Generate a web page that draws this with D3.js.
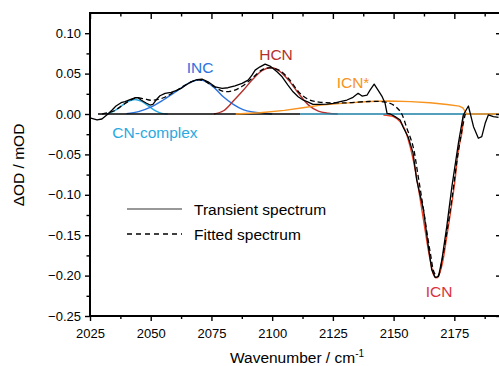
<!DOCTYPE html>
<html>
<head>
<meta charset="utf-8">
<script src="https://cdn.jsdelivr.net/npm/d3@7"></script>
<style>
  body { margin: 0; background: #fff; }
  text { font-family: "Liberation Sans", Arial, sans-serif; }
</style>
</head>
<body>
<div id="chart"></div>
<script>
// transient spectrum (black solid) [wavenumber, dOD]
const transientWn = [2025, 2027.9, 2029.9, 2032.4, 2034.1, 2035.7, 2037.8, 2039.4, 2041.5, 2043.5, 2044.8, 2046, 2048.1, 2049.7, 2050.9, 2052.2, 2053.8, 2055.9, 2058.4, 2060.4, 2062.5, 2064.5, 2066.6, 2069.1, 2071.1, 2073.6, 2076.5, 2079.4, 2081.8, 2084.7, 2087.6, 2090.1, 2091.7, 2093, 2095, 2097.1, 2099.1, 2102, 2104.1, 2106.5, 2108.6, 2110.7, 2112.7, 2114.4, 2116.8, 2119.7, 2122.6, 2125.1, 2128, 2130.8, 2133.3, 2135.4, 2137, 2139.1, 2140.3, 2142, 2143.6, 2145.3, 2146.5, 2147.3, 2148.6, 2150.6, 2152.7, 2153.9, 2156, 2158, 2159.5, 2162.3, 2164.3, 2165.7, 2167.1, 2168.5, 2169.9, 2171.9, 2174, 2176.7, 2178.7, 2180.8, 2182.9, 2184.9, 2186.3, 2187.7, 2189, 2191.1, 2193.2];
const transientOD = [-0.0049, -0.0074, -0.0062, 0, 0.0049, 0.0099, 0.014, 0.0152, 0.0177, 0.0201, 0.0201, 0.0173, 0.0136, 0.0111, 0.012, 0.0173, 0.0226, 0.0256, 0.0268, 0.0288, 0.0317, 0.0358, 0.0399, 0.0426, 0.0432, 0.0399, 0.0337, 0.0317, 0.0325, 0.0349, 0.0379, 0.042, 0.0481, 0.0543, 0.0584, 0.0617, 0.0593, 0.0522, 0.046, 0.0358, 0.0275, 0.0214, 0.0173, 0.0152, 0.012, 0.012, 0.0123, 0.0132, 0.0152, 0.0173, 0.0206, 0.0256, 0.0222, 0.0235, 0.0296, 0.037, 0.0296, 0.0214, 0.0132, 0.0009, 0, -0.0033, -0.0074, -0.016, -0.0284, -0.0481, -0.0815, -0.1185, -0.1638, -0.1926, -0.2025, -0.2009, -0.1802, -0.1391, -0.0898, -0.0358, -0.0012, 0.0099, -0.0157, -0.03, -0.028, -0.0115, -0.0012, -0.0033, -0.0041];

// fitted spectrum (black dashed)
const fittedWn = [2030, 2035, 2038, 2041, 2044, 2047, 2050, 2053, 2056, 2060, 2065, 2069, 2072, 2076, 2080, 2084, 2088, 2092, 2096, 2099, 2103, 2107, 2111, 2115, 2120, 2130, 2140, 2146, 2150, 2153, 2155.5, 2158, 2160, 2162.3, 2165, 2167, 2168.3, 2170, 2172, 2174, 2176, 2178, 2179.5];
const fittedOD = [0, 0.004, 0.01, 0.016, 0.02, 0.019, 0.017, 0.018, 0.021, 0.028, 0.037, 0.042, 0.041, 0.034, 0.028, 0.029, 0.035, 0.045, 0.055, 0.057, 0.054, 0.043, 0.027, 0.018, 0.0145, 0.0138, 0.0155, 0.015, 0.011, 0.002, -0.018, -0.04, -0.075, -0.118, -0.17, -0.198, -0.2, -0.18, -0.145, -0.105, -0.06, -0.022, 0];

// fitted components
const cnWn = [2032, 2035, 2038, 2041, 2043.5, 2046, 2049, 2052, 2055, 2057];
const cnOD = [0, 0.004, 0.01, 0.016, 0.018, 0.016, 0.01, 0.004, 0.0005, 0];
const incWn = [2040, 2045, 2050, 2055, 2060, 2065, 2069, 2072, 2076, 2080, 2084, 2088, 2092, 2096, 2100];
const incOD = [0.0005, 0.003, 0.0085, 0.017, 0.027, 0.037, 0.042, 0.041, 0.033, 0.021, 0.012, 0.0055, 0.0025, 0.001, 0];
const hcnWn = [2076, 2080, 2084, 2088, 2092, 2096, 2099.5, 2103, 2107, 2111, 2115, 2119, 2123, 2127];
const hcnOD = [0, 0.004, 0.016, 0.029, 0.043, 0.054, 0.0575, 0.053, 0.041, 0.025, 0.011, 0.0035, 0.001, 0];
const icnStarWn = [2085, 2095, 2105, 2112, 2120, 2130, 2140, 2148, 2157, 2165, 2172, 2177, 2178.5, 2179.5, 2180, 2195];
const icnStarOD = [0, 0.0015, 0.0045, 0.0075, 0.011, 0.0135, 0.0155, 0.016, 0.0153, 0.014, 0.0118, 0.0098, 0.0075, 0.003, 0, 0];
const icnWn = [2145.8, 2149.9, 2152.7, 2154.7, 2156.8, 2158.9, 2162.3, 2165, 2166.8, 2168, 2169.8, 2171.9, 2174, 2175.3, 2176.7, 2178.1, 2179, 2180];
const icnOD = [-0.0012, -0.0033, -0.0095, -0.0198, -0.0404, -0.0691, -0.1309, -0.18, -0.2009, -0.2025, -0.1885, -0.1515, -0.1102, -0.0815, -0.044, -0.0238, -0.0012, 0];

const xTicks = [2025, 2050, 2075, 2100, 2125, 2150, 2175];
const yTicks = [-0.25, -0.2, -0.15, -0.1, -0.05, 0, 0.05, 0.1];

const width = 499, height = 366;
const svg = d3.select("#chart").append("svg").attr("width", width).attr("height", height);

const x = d3.scaleLinear().domain([2025, 2193.6]).range([90, 499.5]);
const y = d3.scaleLinear().domain([-0.25, 0.125]).range([316, 13]);

const zip = (a, b) => a.map((v, i) => [v, b[i]]);
const smooth = d3.line().x(d => x(d[0])).y(d => y(d[1])).curve(d3.curveCatmullRom.alpha(0.5));
const straight = d3.line().x(d => x(d[0])).y(d => y(d[1]));

// components
const comps = [
  [cnWn, cnOD, "#29a9e0"],
  [incWn, incOD, "#2b73de"],
  [hcnWn, hcnOD, "#b5312d"],
  [icnWn, icnOD, "#ee4022"]
];
comps.forEach(c => {
  svg.append("path").attr("d", smooth(zip(c[0], c[1]))).attr("fill", "none")
    .attr("stroke", c[2]).attr("stroke-width", 1.4);
});

// zero lines
svg.append("path").attr("d", straight([[2028.3, 0], [2111.5, 0]]))
  .attr("stroke", "#000").attr("stroke-width", 1.4);
svg.append("path").attr("d", straight([[2111.5, 0], [2195, 0]]))
  .attr("stroke", "#1b7fa6").attr("stroke-width", 1.6);

svg.append("path").attr("d", straight(zip(icnStarWn, icnStarOD))).attr("fill", "none")
  .attr("stroke", "#f7931e").attr("stroke-width", 1.4).attr("stroke-linejoin", "round");

// fitted + transient
svg.append("path").attr("d", smooth(zip(fittedWn, fittedOD))).attr("fill", "none")
  .attr("stroke", "#000").attr("stroke-width", 1.3).attr("stroke-dasharray", "5,3");
svg.append("path").attr("d", straight(zip(transientWn, transientOD))).attr("fill", "none")
  .attr("stroke", "#000").attr("stroke-width", 1.3).attr("stroke-linejoin", "round");

// axes
const xMinor = d3.range(2037.5, 2193, 25);
const yMinor = d3.range(-0.225, 0.125, 0.05);
const gBottom = svg.append("g").attr("transform", "translate(0,316)");
gBottom.call(d3.axisBottom(x).tickValues(xTicks).tickSize(5).tickFormat(d3.format("d")));
gBottom.append("g").call(d3.axisBottom(x).tickValues(xMinor).tickSize(3).tickFormat(""));
const gTop = svg.append("g").attr("transform", "translate(0,13)");
gTop.call(d3.axisBottom(x).tickValues(xTicks).tickSize(6).tickFormat(""));
gTop.append("g").call(d3.axisBottom(x).tickValues(xMinor).tickSize(3.5).tickFormat(""));
const gLeft = svg.append("g").attr("transform", "translate(90,0)");
gLeft.call(d3.axisLeft(y).tickValues(yTicks).tickSize(5).tickFormat(d3.format(".2f")));
gLeft.append("g").call(d3.axisLeft(y).tickValues(yMinor).tickSize(3.5).tickFormat(""));
const gRight = svg.append("g").attr("transform", "translate(500,0)");
gRight.call(d3.axisLeft(y).tickValues(yTicks).tickSize(4).tickFormat(""));

svg.selectAll(".domain").remove();
svg.selectAll(".tick line").attr("stroke", "#000").attr("stroke-width", 1.4);
gBottom.selectAll("text").attr("font-size", 13).attr("fill", "#000").attr("dy", "1.05em");
gLeft.selectAll("text").attr("font-size", 13).attr("fill", "#000").attr("dx", "-1px");
svg.selectAll(".tick text").style("font-family", "'Liberation Sans', Arial, sans-serif");

svg.append("path").attr("d", `M90,316H500M90,316V13H500`).attr("fill", "none")
  .attr("stroke", "#000").attr("stroke-width", 2);

// axis titles
svg.append("text").attr("x", 297).attr("y", 363).attr("text-anchor", "middle")
  .attr("font-size", 15.5).attr("fill", "#000")
  .text("Wavenumber / cm")
  .append("tspan").attr("dy", -6).attr("font-size", 10).text("-1");
svg.append("text").attr("transform", "translate(24,165) rotate(-90)").attr("text-anchor", "middle")
  .attr("font-size", 15.5).attr("fill", "#000").text("ΔOD / mOD");

// component labels
const labels = [
  ["CN-complex", 155, 138, "#29a9e0"],
  ["INC", 200, 73, "#2b73de"],
  ["HCN", 276, 60, "#b5312d"],
  ["ICN*", 353, 88, "#f7931e"],
  ["ICN", 439, 297, "#d9343c"]
];
labels.forEach(l => {
  svg.append("text").attr("x", l[1]).attr("y", l[2]).attr("text-anchor", "middle")
    .attr("font-size", 15.5).attr("fill", l[3]).text(l[0]);
});

// legend
svg.append("line").attr("x1", 127).attr("x2", 182).attr("y1", 209).attr("y2", 209)
  .attr("stroke", "#333").attr("stroke-width", 1.2);
svg.append("line").attr("x1", 127).attr("x2", 182).attr("y1", 234).attr("y2", 234)
  .attr("stroke", "#000").attr("stroke-width", 1.3).attr("stroke-dasharray", "5,4");
svg.append("text").attr("x", 194).attr("y", 215).attr("font-size", 15.5).attr("fill", "#000").text("Transient spectrum");
svg.append("text").attr("x", 194).attr("y", 240).attr("font-size", 15.5).attr("fill", "#000").text("Fitted spectrum");
</script>
</body>
</html>
